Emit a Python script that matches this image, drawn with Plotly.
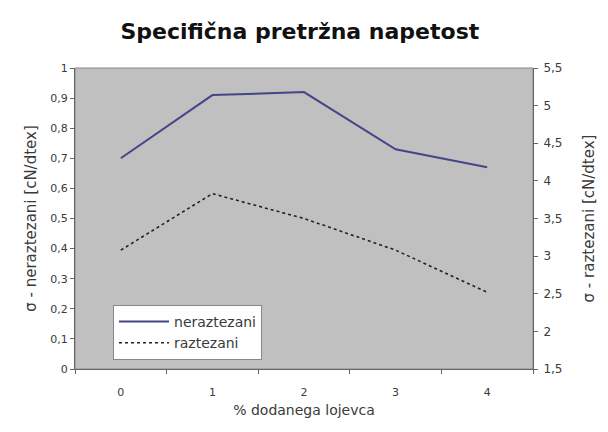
import plotly.graph_objects as go

categories = ["0", "1", "2", "3", "4"]
neraztezani = [0.70, 0.91, 0.92, 0.73, 0.67]
raztezani = [3.08, 3.83, 3.50, 3.08, 2.52]

title_text = "Specifična pretržna napetost"
x_title = "% dodanega lojevca"
y1_title = "σ - neraztezani [cN/dtex]"
y2_title = "σ - raztezani [cN/dtex]"

font_fam = "DejaVu Sans, Liberation Sans, sans-serif"
txt_col = "#3a3a3a"
tick_font = dict(family=font_fam, size=11, color=txt_col)

fig = go.Figure()
fig.add_trace(go.Scatter(
    x=categories, y=neraztezani, name="neraztezani", mode="lines",
    line=dict(color="#45458a", width=2), yaxis="y"))
fig.add_trace(go.Scatter(
    x=categories, y=raztezani, name="raztezani", mode="lines",
    line=dict(color="#222222", width=1.6, dash="dot"), yaxis="y2"))

# page has an 8px body margin; compensate in margins
fig.update_layout(
    width=608, height=432,
    margin=dict(l=67, r=83, t=60, b=71),
    paper_bgcolor="white",
    plot_bgcolor="#c0c0c0",
    separators=", ",
    showlegend=True,
    title=dict(text="<b>" + title_text + "</b>", x=0.48, xanchor="center",
               y=0.945, yanchor="middle",
               font=dict(family=font_fam, size=22, color="#111111")),
    xaxis=dict(
        type="category", range=[-0.5, 4.5], tickson="boundaries",
        ticks="outside", ticklen=4, tickcolor="#666666",
        showline=True, linecolor="#666666", linewidth=1, mirror=False,
        showgrid=False, zeroline=False, tickfont=tick_font,
        ticklabelstandoff=13,
        title=dict(text=x_title, font=dict(family=font_fam, size=14, color=txt_col),
                   standoff=6)),
    yaxis=dict(
        range=[0, 1], dtick=0.1, ticks="outside", ticklen=4, tickcolor="#666666",
        showline=True, linecolor="#666666", linewidth=1,
        showgrid=False, zeroline=False, tickfont=tick_font,
        title=dict(text=y1_title, font=dict(family=font_fam, size=15, color=txt_col),
                   standoff=10)),
    yaxis2=dict(
        range=[1.5, 5.5], dtick=0.5, overlaying="y", side="right",
        ticks="outside", ticklen=4, tickcolor="#666666",
        showline=True, linecolor="#666666", linewidth=1,
        showgrid=False, zeroline=False, ticklabelstandoff=3,
        tickfont=dict(family=font_fam, size=12, color=txt_col),
        title=dict(text=y2_title, font=dict(family=font_fam, size=15, color=txt_col),
                   standoff=22)),
    legend=dict(
        x=0.083, y=0.213, xanchor="left", yanchor="top",
        bgcolor="white", bordercolor="#888888", borderwidth=1,
        font=dict(family=font_fam, size=14, color=txt_col),
        itemwidth=50, tracegroupgap=4),
)

fig.add_shape(type="rect", xref="paper", yref="paper", x0=0, y0=0, x1=1, y1=1,
              line=dict(color="#888888", width=1), layer="below")

fig.write_html("out.html")
